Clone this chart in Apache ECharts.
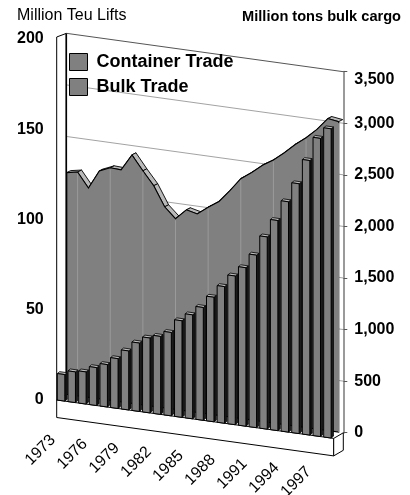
<!DOCTYPE html>
<html>
<head>
<meta charset="utf-8">
<script src="https://cdn.jsdelivr.net/npm/echarts@6/dist/echarts.min.js"></script>
<style>
  html, body { margin: 0; padding: 0; background: #ffffff; }
  #chart { width: 410px; height: 495px; }
</style>
</head>
<body>
<div id="chart"></div>
<script>
// Years on the category axis
const years = ['1973', '1974', '1975', '1976', '1977', '1978', '1979', '1980', '1981',
  '1982', '1983', '1984', '1985', '1986', '1987', '1988', '1989', '1990', '1991',
  '1992', '1993', '1994', '1995', '1996', '1997', '1998'];

// Container trade, million TEU lifts (left axis)
const containerTrade = [14.7, 17.0, 17.8, 21.0, 23.5, 27.6, 32.7, 37.9, 41.5, 43.2,
  46.2, 53.5, 57.6, 62.5, 69.0, 75.7, 82.4, 87.8, 95.6, 106.5, 116.4, 127.6, 138.4,
  152.1, 165.2, 171.3];

// Bulk trade, million tons (right axis)
const bulkTrade = [2150, 2170, 2030, 2210, 2255, 2250, 2410, 2270, 2140, 1950, 1850,
  1950, 1925, 2005, 2075, 2195, 2325, 2400, 2485, 2550, 2635, 2730, 2810, 2905, 3025,
  3010];

// Axis ranges and tick spacing
const teuTicks = { min: 0, max: 200, interval: 50 };
const tonsTicks = { min: 0, max: 3500, interval: 500 };
const yearLabelStep = 3;

const seriesNames = ['Container Trade', 'Bulk Trade'];

// Oblique projection used for the pseudo-3D look
const SLOPE = 0.1386;           // downward drift per pixel to the right
const LABEL_SLOPE = 0.124;      // drift of the year labels
const WALL_DEPTH = [9.6, -5.6]; // front plane -> back wall
const BAR_DEPTH = [2.3, -1.9];  // bar thickness
const LIP_DEPTH = [4, -2];      // thickness of the area ribbon
const FLOOR_H = 17.5;           // height of the floor slab
const FONT = 'Arial, "Liberation Sans", Helvetica, sans-serif';

const GRAY = '#808080';
const LIGHT = '#b9b9b9';
const DARK = '#1c1c1c';

function shear(xRef) {
  return function (p) { return [p[0], p[1] + SLOPE * (p[0] - xRef)]; };
}
function poly(points, fill, stroke, lw) {
  return {
    type: 'polygon',
    shape: { points: points },
    style: { fill: fill, stroke: stroke || '#000', lineWidth: lw == null ? 1 : lw }
  };
}
function seg(a, b, color, lw) {
  return {
    type: 'line',
    shape: { x1: a[0], y1: a[1], x2: b[0], y2: b[1] },
    style: { stroke: color, lineWidth: lw || 1 }
  };
}

// Back wall, its gridlines and the bulk trade ribbon
function renderBulk(params, api) {
  if (params.dataIndex !== 0) return null;
  const n = bulkTrade.length;
  const xLeft = api.coord([0, 0])[0];
  const xRight = api.coord([n - 1, 0])[0] + 4.6;
  const sh = shear(xRight);
  const kids = [];

  for (let v = tonsTicks.min + tonsTicks.interval; v <= tonsTicks.max; v += tonsTicks.interval) {
    const y = api.coord([0, v])[1];
    const top = v === tonsTicks.max;
    kids.push(seg(sh([xLeft, y]), sh([xRight, y]), top ? '#555555' : '#a3a3a3', 1));
  }

  const front = bulkTrade.map(function (v, i) { return sh(api.coord([i, v])); });

  // upper surface of the ribbon
  for (let i = 0; i < n - 1; i++) {
    const a = front[i], b = front[i + 1];
    kids.push(poly([
      a, b,
      [b[0] + LIP_DEPTH[0], b[1] + LIP_DEPTH[1]],
      [a[0] + LIP_DEPTH[0], a[1] + LIP_DEPTH[1]]
    ], LIGHT, '#000', 0.9));
  }

  const base0 = sh(api.coord([0, 0]));
  const baseN = sh(api.coord([n - 1, 0]));
  kids.push(poly(front.concat([baseN, base0]), GRAY, '#000', 1.1));

  // faint category dividers across the ribbon face
  for (let i = 1; i < n; i += yearLabelStep) {
    const b = sh(api.coord([i, 0]));
    kids.push(seg([b[0], b[1]], [front[i][0], front[i][1] + 1.5], '#9a9a9a', 1));
  }

  return { type: 'group', children: kids };
}

// Floor, side wall, columns and year labels
function renderContainer(params, api) {
  const i = params.dataIndex;
  const n = containerTrade.length;
  const band = api.size([1, 0])[0];
  const xRef = api.coord([0, 0])[0] - band / 2;
  const sh = shear(xRef);
  const kids = [];

  if (i === 0) {
    const xL = xRef;
    const xR = api.coord([n - 1, 0])[0] + band / 2;
    const fl = sh([xL, api.coord([0, 0])[1]]);
    const fr = sh([xR, api.coord([0, 0])[1]]);
    const topY = api.coord([0, teuTicks.max])[1] - 2;
    // side wall
    kids.push(poly([
      [xL, topY],
      [xL + WALL_DEPTH[0], topY - 3.6],
      [xL + WALL_DEPTH[0], fl[1] + WALL_DEPTH[1]],
      [xL, fl[1]]
    ], '#ffffff', '#000', 1));
    kids.push(seg([xL + WALL_DEPTH[0], topY - 3.6], [xL + WALL_DEPTH[0], fl[1] + WALL_DEPTH[1]], '#000', 1.6));
    // floor slab: front and right faces
    kids.push(poly([fl, fr, [fr[0], fr[1] + FLOOR_H], [fl[0], fl[1] + FLOOR_H]], '#ffffff', '#000', 1));
    kids.push(poly([
      fr,
      [fr[0] + WALL_DEPTH[0], fr[1] + WALL_DEPTH[1]],
      [fr[0] + WALL_DEPTH[0], fr[1] + WALL_DEPTH[1] + FLOOR_H],
      [fr[0], fr[1] + FLOOR_H]
    ], '#ffffff', '#000', 1));
  }

  const v = api.value(1);
  const c = api.coord([i, v]);
  const b = api.coord([i, 0]);
  const x1 = c[0] - band / 2 + band * 0.06;
  const x2 = x1 + band * 0.70;
  const tl = sh([x1, c[1]]), tr = sh([x2, c[1]]);
  const bl = sh([x1, b[1]]), br = sh([x2, b[1]]);
  const dx = BAR_DEPTH[0], dy = BAR_DEPTH[1];

  kids.push(poly([tr, [tr[0] + dx, tr[1] + dy], [br[0] + dx, br[1] + dy], br], DARK, '#000', 0.8));
  kids.push(poly([tl, tr, [tr[0] + dx, tr[1] + dy], [tl[0] + dx, tl[1] + dy]], LIGHT, '#000', 0.8));
  kids.push(poly([tl, tr, br, bl], GRAY, '#000', 1));

  if (i % yearLabelStep === 0) {
    const ax = b[0] - 9;
    kids.push({
      type: 'text',
      x: ax,
      y: b[1] + LABEL_SLOPE * (ax - xRef) + 38,
      rotation: Math.PI / 4,
      style: {
        text: years[i],
        align: 'right',
        verticalAlign: 'middle',
        fontFamily: FONT,
        fontSize: 16,
        fill: '#000'
      }
    });
  }
  return { type: 'group', children: kids };
}

function tons(v) {
  return String(v).replace(/\B(?=(\d{3})+(?!\d))/g, ',');
}

const chart = echarts.init(document.getElementById('chart'), null, { renderer: 'canvas' });

chart.setOption({
  backgroundColor: '#ffffff',
  animation: false,
  title: [
    {
      text: 'Million Teu Lifts', left: 17, top: 8, padding: 0,
      textStyle: { fontFamily: FONT, fontSize: 16, fontWeight: 'normal', color: '#000' }
    },
    {
      text: 'Million tons bulk cargo', right: 9, top: 9, padding: 0,
      textStyle: { fontFamily: FONT, fontSize: 14.6, fontWeight: 'bold', color: '#000' }
    }
  ],
  legend: {
    data: seriesNames,
    orient: 'vertical',
    left: 69,
    top: 53,
    padding: 0,
    itemWidth: 18,
    itemHeight: 17,
    itemGap: 7,
    icon: 'rect',
    selectedMode: false,
    itemStyle: { color: GRAY, borderColor: '#000', borderWidth: 1 },
    textStyle: {
      fontFamily: FONT, fontSize: 18, fontWeight: 'bold', color: '#000',
      lineHeight: 18, padding: [0, 0, 0, 4]
    }
  },
  grid: [
    { left: 56.7, top: 39, width: 277, height: 361 },
    { left: 66.7, top: 71.7, width: 272, height: 361 }
  ],
  xAxis: [
    { type: 'category', gridIndex: 0, data: years, boundaryGap: true, show: false },
    { type: 'category', gridIndex: 1, data: years, boundaryGap: false, show: false }
  ],
  yAxis: [
    {
      type: 'value', gridIndex: 0, position: 'left',
      min: teuTicks.min, max: teuTicks.max, interval: teuTicks.interval,
      axisLine: { show: false }, axisTick: { show: false }, splitLine: { show: false },
      axisLabel: {
        margin: 13, fontFamily: FONT, fontSize: 16, fontWeight: 'bold', color: '#000'
      }
    },
    {
      type: 'value', gridIndex: 1, position: 'right', offset: 4.6,
      min: tonsTicks.min, max: tonsTicks.max, interval: tonsTicks.interval,
      axisLine: { show: true, lineStyle: { color: '#9a9a9a', width: 2 } },
      axisTick: { show: true, length: 4, lineStyle: { color: '#555555' } },
      splitLine: { show: false },
      axisLabel: {
        margin: 11,
        formatter: function (v) {
          return v === tonsTicks.max ? '{top|' + tons(v) + '}' : '{n|' + tons(v) + '}';
        },
        rich: {
          n: { fontFamily: FONT, fontSize: 16, fontWeight: 'bold', color: '#000' },
          top: { fontFamily: FONT, fontSize: 16, fontWeight: 'bold', color: '#000', padding: [16, 0, 0, 0] }
        }
      }
    }
  ],
  series: [
    {
      name: 'Bulk Trade',
      type: 'custom',
      xAxisIndex: 1,
      yAxisIndex: 1,
      clip: false,
      itemStyle: { color: GRAY },
      renderItem: renderBulk,
      data: bulkTrade.map(function (v, i) { return [i, v]; }),
      z: 1
    },
    {
      name: 'Container Trade',
      type: 'custom',
      xAxisIndex: 0,
      yAxisIndex: 0,
      clip: false,
      itemStyle: { color: GRAY },
      renderItem: renderContainer,
      data: containerTrade.map(function (v, i) { return [i, v]; }),
      z: 2
    }
  ]
});
</script>
</body>
</html>
